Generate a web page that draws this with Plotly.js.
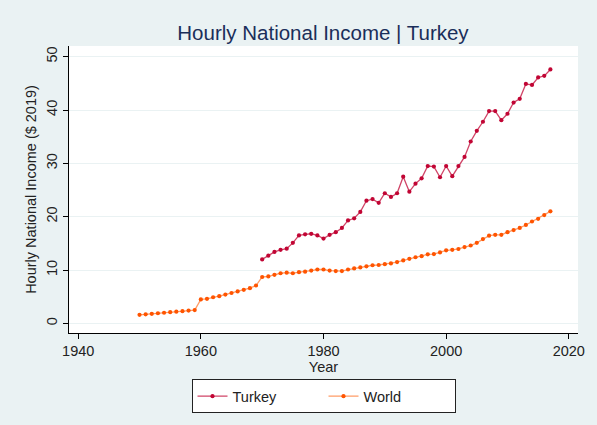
<!DOCTYPE html>
<html>
<head>
<meta charset="utf-8">
<script src="https://cdn.plot.ly/plotly-3.0.1.min.js"></script>
<style>
  html, body { margin: 0; padding: 0; background: #EAF2F3; }
  #chart { width: 597px; height: 425px; }
</style>
</head>
<body>
<div id="chart"></div>
<script>
// Hourly national income, constant 2019 dollars
const turkeyYears = [1970, 1971, 1972, 1973, 1974, 1975, 1976, 1977, 1978, 1979,
  1980, 1981, 1982, 1983, 1984, 1985, 1986, 1987, 1988, 1989,
  1990, 1991, 1992, 1993, 1994, 1995, 1996, 1997, 1998, 1999,
  2000, 2001, 2002, 2003, 2004, 2005, 2006, 2007, 2008, 2009,
  2010, 2011, 2012, 2013, 2014, 2015, 2016, 2017];
const turkeyIncome = [12.0, 12.7, 13.4, 13.8, 14.0, 15.1, 16.5, 16.7, 16.8, 16.5,
  15.9, 16.6, 17.1, 17.9, 19.3, 19.7, 20.9, 23.0, 23.3, 22.6,
  24.4, 23.7, 24.4, 27.5, 24.7, 26.2, 27.2, 29.5, 29.4, 27.4,
  29.5, 27.6, 29.5, 31.2, 34.1, 36.1, 37.8, 39.8, 39.8, 38.1,
  39.3, 41.4, 42.1, 44.9, 44.7, 46.1, 46.4, 47.6];

const worldYears = [1950, 1951, 1952, 1953, 1954, 1955, 1956, 1957, 1958, 1959,
  1960, 1961, 1962, 1963, 1964, 1965, 1966, 1967, 1968, 1969,
  1970, 1971, 1972, 1973, 1974, 1975, 1976, 1977, 1978, 1979,
  1980, 1981, 1982, 1983, 1984, 1985, 1986, 1987, 1988, 1989,
  1990, 1991, 1992, 1993, 1994, 1995, 1996, 1997, 1998, 1999,
  2000, 2001, 2002, 2003, 2004, 2005, 2006, 2007, 2008, 2009,
  2010, 2011, 2012, 2013, 2014, 2015, 2016, 2017];
const worldIncome = [1.6, 1.7, 1.8, 1.9, 2.0, 2.1, 2.2, 2.3, 2.4, 2.5,
  4.5, 4.6, 4.9, 5.1, 5.4, 5.7, 6.0, 6.3, 6.6, 7.1,
  8.7, 8.8, 9.1, 9.4, 9.5, 9.4, 9.6, 9.7, 9.9, 10.1,
  10.1, 9.9, 9.8, 9.8, 10.1, 10.3, 10.5, 10.7, 10.9, 10.95,
  11.1, 11.25, 11.5, 11.8, 12.1, 12.4, 12.6, 12.95, 13.0, 13.3,
  13.7, 13.8, 13.95, 14.3, 14.6, 15.1, 15.8, 16.45, 16.6, 16.6,
  17.1, 17.5, 17.9, 18.45, 19.1, 19.6, 20.3, 21.0];

const xTicks = [1940, 1960, 1980, 2000, 2020];
const yTicks = [0, 10, 20, 30, 40, 50];

const traces = [
  {
    name: 'Turkey',
    x: turkeyYears,
    y: turkeyIncome,
    type: 'scatter',
    mode: 'lines+markers',
    line: { color: 'rgba(192,5,52,0.75)', width: 1.3 },
    marker: { color: '#C10534', size: 4.2 }
  },
  {
    name: 'World',
    x: worldYears,
    y: worldIncome,
    type: 'scatter',
    mode: 'lines+markers',
    line: { color: 'rgba(255,90,0,0.6)', width: 1.3 },
    marker: { color: '#FF5400', size: 4.2 }
  }
];

const layout = {
  width: 597,
  height: 425,
  paper_bgcolor: '#EAF2F3',
  plot_bgcolor: '#FFFFFF',
  margin: { l: 69, r: 19, t: 46, b: 92, autoexpand: false },
  font: { family: 'Liberation Sans, Arial, sans-serif', color: '#222222', size: 14.5 },
  title: {
    text: 'Hourly National Income | Turkey',
    font: { size: 20.5, color: '#1A2E5A' },
    x: 0.541, xanchor: 'center',
    y: 0.922, yanchor: 'middle'
  },
  xaxis: {
    range: [1938.5, 2021.5],
    tickvals: xTicks,
    ticks: 'outside',
    ticklen: 5,
    tickcolor: '#000000',
    showline: true,
    linecolor: '#000000',
    linewidth: 1,
    showgrid: false,
    zeroline: false,
    automargin: false,
    tickfont: { size: 14.5 },
    title: { text: 'Year', font: { size: 14.5 }, standoff: 2 }
  },
  yaxis: {
    range: [-1.8, 52],
    tickvals: yTicks,
    tickangle: -90,
    ticks: 'outside',
    ticklen: 5,
    tickcolor: '#000000',
    showline: true,
    linecolor: '#000000',
    linewidth: 1,
    showgrid: true,
    gridcolor: '#EAF2F3',
    gridwidth: 1,
    zeroline: false,
    automargin: false,
    tickfont: { size: 14.5 },
    title: { text: 'Hourly National Income ($ 2019)', font: { size: 14.5 }, standoff: 4 }
  },
  showlegend: true,
  legend: {
    orientation: 'h',
    x: 0.5, xanchor: 'center',
    y: -0.161, yanchor: 'top',
    bgcolor: '#FFFFFF',
    bordercolor: '#222222',
    borderwidth: 1,
    font: { size: 14.5 },
    entrywidth: 86,
    itemwidth: 30
  }
};

Plotly.newPlot('chart', traces, layout, { displayModeBar: false, staticPlot: true });
</script>
</body>
</html>
